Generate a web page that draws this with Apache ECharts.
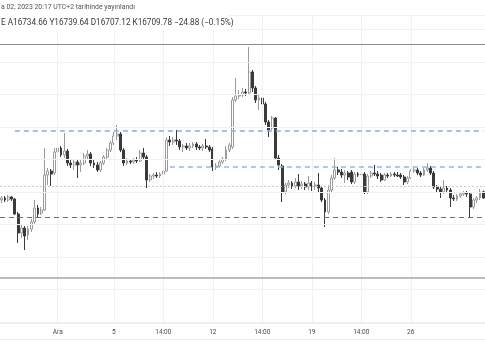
<!DOCTYPE html>
<html>
<head>
<meta charset="utf-8">
<script src="https://cdn.jsdelivr.net/npm/echarts@6/dist/echarts.min.js"></script>
<style>
html,body{margin:0;padding:0;background:#fff;}
#chart{width:485px;height:360px;}
</style>
</head>
<body>
<div id="chart"></div>
<script>
// ---- data (4h candles) ----
const opens = [16702,16710,16702,16714,16706,16646,16570,16590,16562,16586,
16614,16670,16650,16662,16802,16818,16810,16894,16910,16882,
16898,16850,16842,16854,16842,16850,16878,16886,16850,16842,
16822,16850,16874,16902,16930,16958,16966,16902,16850,16858,
16854,16862,16858,16890,16874,16782,16798,16802,16798,16806,
16818,16942,16934,16942,16938,16914,16918,16910,16918,16926,
16914,16910,16918,16914,16906,16834,16838,16854,16866,16902,
16914,17102,17118,17122,17134,17130,17214,17150,17102,17110,
17086,17014,16990,17030,16870,16838,16734,16762,16770,16758,
16774,16758,16766,16754,16770,16758,16762,16750,16702,16654,
16742,16790,16822,16814,16802,16810,16814,16774,16806,16802,
16806,16734,16798,16810,16806,16802,16782,16802,16798,16806,
16802,16802,16794,16774,16790,16818,16822,16810,16802,16822,
16830,16810,16754,16746,16734,16750,16742,16710,16706,16718,
16726,16730,16726,16674,16702,16710,16734.66];
const closes = [16710,16702,16714,16706,16646,16570,16590,16558,16586,16614,
16670,16646,16662,16802,16818,16806,16894,16910,16882,16898,
16850,16842,16854,16842,16850,16878,16886,16850,16842,16822,
16850,16874,16902,16930,16958,16966,16902,16850,16858,16854,
16862,16858,16890,16874,16782,16798,16802,16798,16806,16818,
16942,16934,16942,16938,16914,16918,16910,16918,16926,16914,
16910,16918,16914,16902,16834,16838,16854,16866,16902,16922,
17102,17118,17122,17134,17130,17214,17150,17102,17110,17086,
17014,16982,17030,16870,16842,16734,16762,16770,16758,16774,
16758,16766,16754,16770,16758,16762,16750,16702,16654,16742,
16790,16822,16814,16802,16810,16794,16774,16806,16802,16806,
16734,16798,16810,16806,16798,16782,16802,16798,16806,16802,
16798,16794,16774,16790,16818,16822,16810,16802,16822,16830,
16810,16754,16746,16734,16750,16742,16710,16706,16718,16726,
16730,16726,16674,16702,16710,16734,16709.78];
const lows = [16690,16694,16694,16698,16642,16530,16550,16502,16542,16574,
16606,16634,16642,16658,16762,16758,16802,16878,16874,16870,
16838,16830,16822,16790,16814,16842,16862,16838,16830,16814,
16814,16842,16862,16894,16922,16942,16894,16838,16842,16846,
16846,16850,16854,16862,16750,16774,16786,16790,16790,16794,
16814,16918,16922,16922,16902,16894,16902,16898,16910,16902,
16902,16898,16906,16894,16818,16822,16834,16846,16858,16894,
16906,17094,17106,17114,17118,17122,17134,17090,17062,17042,
17002,16954,16982,16862,16822,16694,16726,16750,16746,16750,
16742,16746,16742,16742,16738,16742,16734,16694,16594,16646,
16734,16782,16802,16790,16770,16782,16766,16766,16794,16794,
16726,16726,16790,16798,16786,16774,16778,16790,16794,16794,
16794,16786,16762,16766,16786,16810,16802,16794,16798,16814,
16802,16746,16730,16710,16726,16730,16674,16698,16698,16710,
16718,16714,16630,16666,16690,16702,16707.12];
const highs = [16718,16718,16722,16718,16710,16654,16602,16598,16598,16626,
16702,16682,16674,16910,16830,16826,16910,16942,16918,16970,
16906,16862,16866,16862,16862,16890,16902,16894,16862,16854,
16858,16882,16910,16938,16974,17002,16974,16910,16870,16866,
16870,16874,16902,16910,16882,16806,16810,16814,16814,16826,
16954,16958,16954,16982,16946,16926,16930,16930,16934,16934,
16922,16926,16946,16922,16914,16850,16862,16874,16918,16930,
17114,17190,17142,17150,17146,17314,17222,17158,17122,17118,
17094,17022,17038,17034,16882,16846,16770,16782,16778,16790,
16806,16778,16774,16798,16778,16774,16810,16758,16710,16762,
16802,16870,16834,16826,16822,16818,16822,16814,16814,16814,
16814,16806,16818,16842,16818,16810,16810,16810,16814,16814,
16814,16810,16802,16798,16826,16834,16830,16818,16830,16850,
16838,16818,16762,16754,16782,16758,16750,16722,16726,16734,
16738,16738,16734,16710,16718,16746,16739.64];

// time-axis tick labels and the candle index they sit on
const tickLabels = ['Ara','5','14:00','12','14:00','19','14:00','26'];
const tickIndex  = [17, 34, 49, 64, 79, 94, 109, 124];

// horizontal drawn levels (price) and the candle they start from
const levelPrices = [17326, 16978, 16834, 16758, 16634, 16390];
const levelStart  = [0, 4, 51, 0, 0, 0];

// faint price grid values
const gridPrices = [17442, 17386, 17254, 17126, 16994, 16866, 16734, 16606, 16474, 16346, 16214];

// header texts
const headerLine1 = 'a 02, 2023 20:17 UTC+2 tarihinde yayınlandı';
const headerLine2 = 'E A16734.66 Y16739.64 D16707.12 K16709.78 \u221224.88 (\u22120.15%)';

const priceMin = 16210, priceMax = 17442;

// ---- build ----
const categories = opens.map((_, i) => String(i));
const candles = opens.map((o, i) => [o, closes[i], lows[i], highs[i]]);
const last = categories.length - 1;

const levelStyles = [
  {color:'#8a8a8a', width:1, type:'solid'},
  {color:'#86a8f4', width:1.5, type:[5,4]},
  {color:'#93b3f6', width:1.5, type:[5,4]},
  {color:'#c9c9c9', width:1, type:[2,2]},
  {color:'#3f6fe4', width:1.2, type:[5,4]},
  {color:'#a9a9a9', width:1.5, type:'solid'}
];
const levelData = levelPrices.map((p, i) => {
  const ls = {lineStyle: levelStyles[i]};
  if (levelStart[i] === 0) return Object.assign({yAxis: p}, ls);
  return [Object.assign({coord: [levelStart[i], p]}, ls), {coord: [last, p]}];
});

const gridLineData = gridPrices.map(p => ({yAxis: p}))
  .concat(tickIndex.map(i => ({xAxis: i})));

const FONT = 'Roboto, "Noto Sans", sans-serif';

const option = {
  animation: false,
  backgroundColor: '#ffffff',
  grid: {left: 0, right: 0, top: 15, bottom: 37, containLabel: false},
  xAxis: {
    type: 'category',
    data: categories,
    boundaryGap: true,
    axisLine: {show: true, lineStyle: {color: '#ececec', width: 1}},
    axisTick: {show: false},
    splitLine: {show: false},
    axisLabel: {
      interval: (idx) => tickIndex.indexOf(idx) >= 0,
      formatter: (v, idx) => {
        const k = tickIndex.indexOf(Number(v));
        return k >= 0 ? tickLabels[k] : '';
      },
      color: '#4a4a4a', fontSize: 6.5, fontFamily: FONT, margin: 6
    }
  },
  yAxis: {
    type: 'value', min: priceMin, max: priceMax, scale: true,
    axisLine: {show: false}, axisTick: {show: false},
    axisLabel: {show: false}, splitLine: {show: false}
  },
  series: [
    {
      type: 'line', data: [], silent: true, z: 1,
      markLine: {
        silent: true, symbol: 'none', animation: false,
        label: {show: false},
        lineStyle: {color: '#f1f1f1', width: 1, type: 'solid'},
        data: gridLineData
      }
    },
    {
      type: 'candlestick',
      data: candles,
      barWidth: '72%',
      z: 2,
      itemStyle: {
        color: '#ffffff', color0: '#3a3a3a',
        borderColor: '#9b9b9b', borderColor0: '#3a3a3a',
        borderWidth: 1
      }
    },
    {
      type: 'line', data: [], silent: true, z: 3,
      markLine: {
        silent: true, symbol: 'none', animation: false,
        label: {show: false},
        data: levelData
      }
    }
  ],
  graphic: [
    {type: 'line', shape: {x1: 0, y1: 339.5, x2: 485, y2: 339.5}, style: {stroke: '#ececec', lineWidth: 1}, silent: true},
    {type: 'rect', shape: {x: 0, y: 0, width: 228, height: 30}, style: {fill: '#ffffff'}, silent: true, z: 50},
    {type: 'text', left: 1, top: 4, z: 51, style: {text: headerLine1, fill: '#555555', font: '6.9px ' + FONT}},
    {type: 'text', left: 1, top: 19, z: 51, style: {text: headerLine2, fill: '#3a3a3a', font: '8.2px ' + FONT}}
  ]
};

const chart = echarts.init(document.getElementById('chart'), null, {renderer: 'canvas'});
chart.setOption(option);
</script>
</body>
</html>
